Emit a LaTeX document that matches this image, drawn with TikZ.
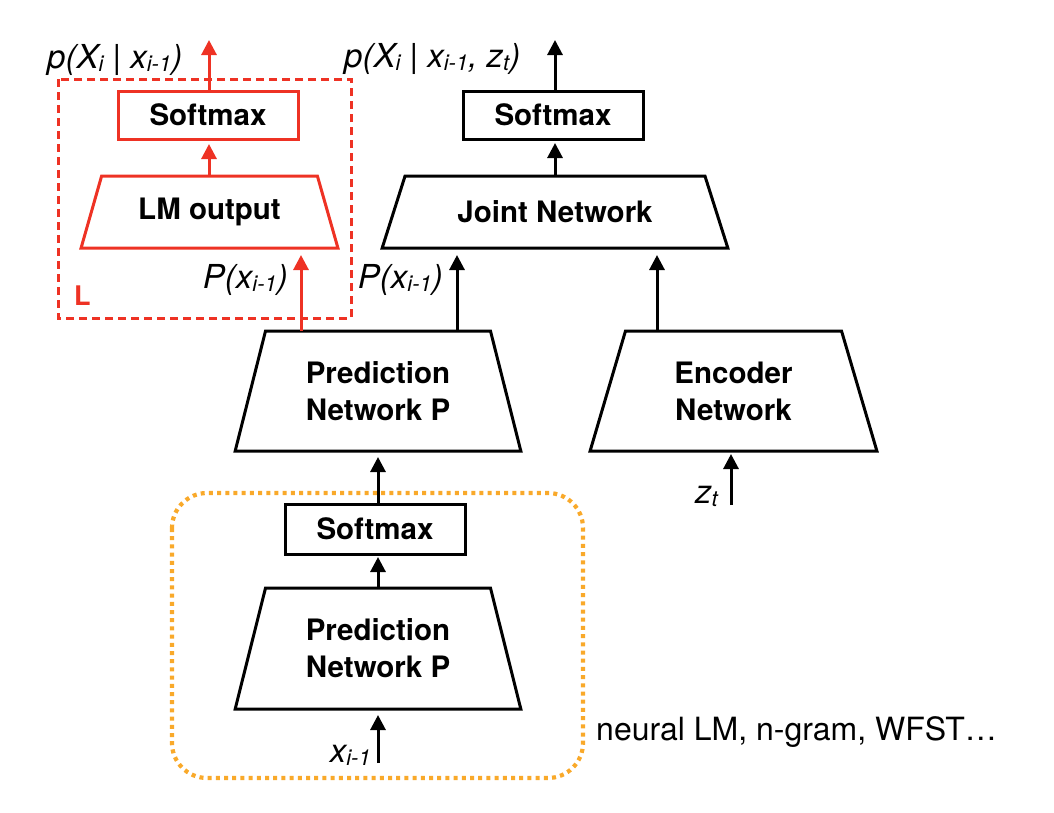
\documentclass[tikz,border=0pt]{standalone}
\usepackage{fontspec}
\setmainfont{TeX Gyre Heros}
\usetikzlibrary{shapes.geometric,arrows.meta}
\definecolor{lmred}{HTML}{EE3224}
\definecolor{lmorange}{HTML}{F9A92A}
\newcommand{\lsub}[1]{\raisebox{-3pt}{\fontsize{22}{22}\selectfont #1}}
\newcommand{\boxfont}{\bfseries\fontsize{29.5}{37}\selectfont}
\newcommand{\labfont}{\itshape\fontsize{33}{36}\selectfont}
\begin{document}
\begin{tikzpicture}[x=1pt,y=-1pt,
  tz/.style={trapezium, draw, line width=3pt, trapezium stretches=true,
    inner sep=0pt, outer sep=0pt, align=center, font=\boxfont, text=black},
  smbox/.style={rectangle, draw, line width=3pt, minimum width=180pt,
    minimum height=48pt, inner sep=0pt, outer sep=0pt, font=\boxfont, text=black},
  lab/.style={inner sep=0pt, font=\labfont},
  arr/.style={line width=3pt, -{Triangle[width=15pt,length=15pt]}},
  redarr/.style={arr, lmred},
  reddash/.style={draw=lmred, line width=3pt, dash pattern=on 8pt off 5pt},
  orangedot/.style={draw=lmorange, line width=4.2pt, dash pattern=on 4pt off 4.2pt, rounded corners=35pt}
]
\useasboundingbox (0,0) rectangle (1054,812);

% red LM block
\draw[reddash] (58,79) rectangle (351,318);
\node[smbox, draw=lmred] (sm1) at (208,115) {Softmax};
\node[tz, draw=lmred, minimum width=257pt, minimum height=72pt,
  trapezium left angle=64.1, trapezium right angle=64.1] (lm) at (209.5,212) {LM output};
\node[inner sep=0pt, anchor=base west, text=lmred, font=\bfseries\fontsize{27}{27}\selectfont] (Lbl) at (74,305) {L};

% joint side
\node[smbox] (sm2) at (553,115) {Softmax};
\node[tz, minimum width=346pt, minimum height=72pt,
  trapezium left angle=56.3, trapezium right angle=56.3] (joint) at (555,212) {Joint Network};

\node[tz, minimum width=286pt, minimum height=120pt,
  trapezium left angle=71.8, trapezium right angle=71.8] (pred1) at (378,391) {Prediction\\Network P};
\node[tz, minimum width=287pt, minimum height=120pt,
  trapezium left angle=71.8, trapezium right angle=71.8] (enc) at (733.5,391) {Encoder\\Network};

% orange block
\draw[orangedot] (172,493) rectangle (583,778);
\node[smbox, minimum height=50pt] (sm3) at (375,529) {Softmax};
\node[tz, minimum width=286pt, minimum height=121pt,
  trapezium left angle=71.8, trapezium right angle=71.8] (pred2) at (378,648.5) {Prediction\\Network P};

% labels
\node[lab, anchor=base west] (outL) at (47,68) {p(X\lsub{i} | x\lsub{i-1})};
\node[lab, anchor=base west] (outJ) at (344,67.5) {p(X\lsub{i} | x\lsub{i-1}, z\lsub{t})};
\node[lab, anchor=base east] (pL) at (288,288) {P(x\lsub{i-1})};
\node[lab, anchor=base east] (pJ) at (443,288) {P(x\lsub{i-1})};
\node[lab, anchor=base east] (xin) at (371,762) {x\lsub{i-1}};
\node[lab, anchor=base east] (zin) at (718,503) {z\lsub{t}};
\node[inner sep=0pt, anchor=base west, font=\fontsize{32}{36}\selectfont] (note) at (596,740) {neural LM, n-gram, WFST…};

% coordinates for free ends
\coordinate (topL) at (209,40);
\coordinate (topJ) at (555,40);
\coordinate (rx) at (301,0);
\coordinate (jx) at (457,0);
\coordinate (ex) at (657,0);
\coordinate (xbot) at (378,763);
\coordinate (zbot) at (731,505);

% connectors
\draw[redarr] (sm1.north -| topL) -- (topL);
\draw[redarr, shorten >=5pt] (lm.north -| topL) -- (sm1.south -| topL);
\draw[redarr, shorten >=7pt] (pred1.north -| rx) -- (lm.south -| rx);

\draw[arr] (sm2.north -| topJ) -- (topJ);
\draw[arr, shorten >=4pt] (joint.north) -- (sm2.south -| joint.north);
\draw[arr, shorten >=7pt] (pred1.north -| jx) -- (joint.south -| jx);
\draw[arr, shorten >=7pt] (enc.north -| ex) -- (joint.south -| ex);

\draw[arr, shorten >=6pt] (sm3.north -| xbot) -- (pred1.south -| xbot);
\draw[arr, shorten >=3pt] (pred2.north -| xbot) -- (sm3.south -| xbot);
\draw[arr, shorten >=6pt] (xbot) -- (pred2.south -| xbot);
\draw[arr, shorten >=3pt] (zbot) -- (enc.south -| zbot);
\end{tikzpicture}
\end{document}
